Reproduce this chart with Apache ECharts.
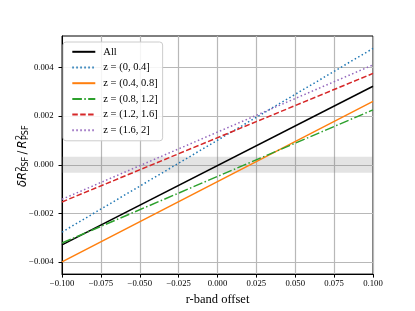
<!DOCTYPE html>
<html>
<head>
<meta charset="utf-8">
<script src="https://cdn.jsdelivr.net/npm/echarts@6/dist/echarts.min.js"></script>
<style>html,body{margin:0;padding:0;background:#fff;}#c{width:415px;height:311px;}</style>
</head>
<body>
<div id="c"></div>
<script>
// ---- data ----
const xOffsets = [-0.1, 0.1];
const seriesNames = ['All', 'z = (0, 0.4]', 'z = (0.4, 0.8]', 'z = (0.8, 1.2]', 'z = (1.2, 1.6]', 'z = (1.6, 2]'];
const valsAll = [-0.00330, 0.00323];
const valsZ1 = [-0.00277, 0.00479];
const valsZ2 = [-0.00400, 0.00261];
const valsZ3 = [-0.00322, 0.00226];
const valsZ4 = [-0.00153, 0.00376];
const valsZ5 = [-0.00142, 0.00411];
const bandRange = [-0.00033, 0.00033];
const xTickValues = [-0.1, -0.075, -0.05, -0.025, 0, 0.025, 0.05, 0.075, 0.1];
const yTickValues = [-0.004, -0.002, 0, 0.002, 0.004];

const seriesVals = [valsAll, valsZ1, valsZ2, valsZ3, valsZ4, valsZ5];
const colors = ['#000000', '#1f77b4', '#ff7f0e', '#2ca02c', '#d62728', '#9467bd'];
const dashes = ['solid', [1.5, 2.5], 'solid', [9.6, 2.4, 1.5, 2.4], [5.5, 2.4], [1.5, 2.5]];

function fmt(v) {
  if (Math.abs(v) < 1e-12) v = 0;
  return v.toFixed(3).replace('-', '\u2212');
}

const serif = 'Liberation Serif';
const series = seriesVals.map((vals, i) => {
  const s = {
    name: seriesNames[i],
    type: 'line',
    data: xOffsets.map((x, j) => [x, vals[j]]),
    symbol: 'none',
    showSymbol: false,
    silent: true,
    animation: false,
    lineStyle: { color: colors[i], width: 1.5, type: dashes[i], cap: 'butt' },
    itemStyle: { color: colors[i] },
    z: 3 + i
  };
  if (i === 0) {
    s.markArea = {
      silent: true,
      itemStyle: { color: 'rgba(128,128,128,0.22)' },
      data: [[{ yAxis: bandRange[0] }, { yAxis: bandRange[1] }]]
    };
  }
  return s;
});

const chart = echarts.init(document.getElementById('c'), null, { renderer: 'canvas' });
const mainFont = 'italic 11.5px "DejaVu Sans"';
const subFont = '8px "DejaVu Sans"';
chart.setOption({
  animation: false,
  backgroundColor: '#ffffff',
  grid: { left: 62, right: 42, top: 36, bottom: 34, show: true, borderColor: '#000', borderWidth: 1, backgroundColor: 'transparent' },
  legend: {
    data: seriesNames,
    orient: 'vertical',
    left: 63, top: 42,
    itemWidth: 23, itemHeight: 10, itemGap: 4.7,
    padding: [4.3, 5, 5, 8.3],
    backgroundColor: 'rgba(255,255,255,0.85)',
    borderColor: '#cccccc', borderWidth: 1, borderRadius: 3,
    itemStyle: { opacity: 0 },
    textStyle: { fontFamily: serif, fontSize: 10.5, color: '#000', padding: [0, 0, 0, 3] },
    selectedMode: false
  },
  xAxis: {
    type: 'value', min: -0.1, max: 0.1, interval: 0.025,
    name: 'r-band offset', nameLocation: 'middle', nameGap: 16,
    nameTextStyle: { fontFamily: serif, fontSize: 12.5, color: '#000' },
    axisLine: { show: true, onZero: false, lineStyle: { color: '#000', width: 1 } },
    axisTick: { show: true, length: 3.5, inside: false, lineStyle: { color: '#000' } },
    axisLabel: { fontFamily: serif, fontSize: 8.7, color: '#000', margin: 5, formatter: fmt, showMinLabel: true, showMaxLabel: true },
    splitLine: { show: true, lineStyle: { color: '#b8b8b8', width: 1.2 } }
  },
  yAxis: {
    type: 'value', min: -0.0045, max: 0.0053,
    axisLine: { show: true, onZero: false, lineStyle: { color: '#000', width: 1 } },
    axisTick: { show: true, length: 3.5, inside: false, lineStyle: { color: '#000' }, customValues: yTickValues },
    axisLabel: { fontFamily: serif, fontSize: 8.7, color: '#000', margin: 8.5, formatter: fmt, customValues: yTickValues },
    splitLine: { show: true, lineStyle: { color: '#b8b8b8', width: 1.2 } }
  },
  graphic: [{
    type: 'group',
    x: 22.8, y: 187,
    rotation: Math.PI / 2,
    silent: true,
    children: [
      { type: 'text', x: 0, y: 0, style: { text: '\u03b4R', font: mainFont, fill: '#000', verticalAlign: 'middle', align: 'left' } },
      { type: 'text', x: 15.5, y: -3.2, style: { text: '2', font: subFont, fill: '#000', verticalAlign: 'middle', align: 'left' } },
      { type: 'text', x: 15.5, y: 2.8, style: { text: 'PSF', font: subFont, fill: '#000', verticalAlign: 'middle', align: 'left' } },
      { type: 'text', x: 32.5, y: 0, style: { text: '/', font: '11.5px "DejaVu Sans"', fill: '#000', verticalAlign: 'middle', align: 'left' } },
      { type: 'text', x: 38.5, y: 0, style: { text: 'R', font: mainFont, fill: '#000', verticalAlign: 'middle', align: 'left' } },
      { type: 'text', x: 47, y: -3.2, style: { text: '2', font: subFont, fill: '#000', verticalAlign: 'middle', align: 'left' } },
      { type: 'text', x: 47, y: 2.8, style: { text: 'PSF', font: subFont, fill: '#000', verticalAlign: 'middle', align: 'left' } }
    ]
  }],
  series: series
});
</script>
</body>
</html>
